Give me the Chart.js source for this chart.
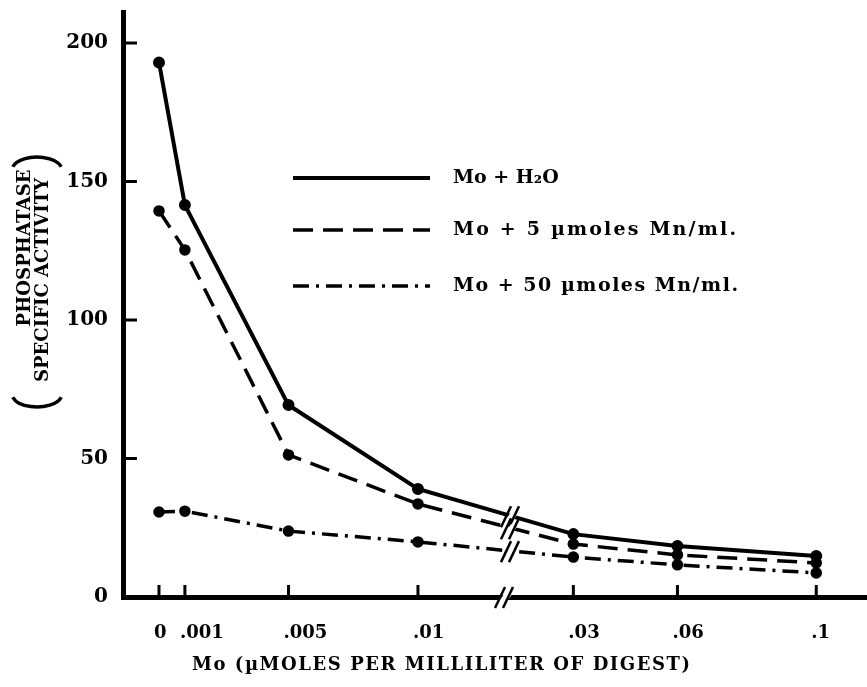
<!DOCTYPE html>
<html>
<head>
<meta charset="utf-8">
<script src="https://cdn.jsdelivr.net/npm/chart.js@4.4.0/dist/chart.umd.min.js"></script>
<style>
    html, body { margin: 0; padding: 0; background: #fff; }
    canvas { display: block; }
</style>
</head>
<body>
<canvas id="chart" width="867" height="687"></canvas>
<script>
// Mo concentration (umoles per ml of digest) and the axis labels
const concentrations = [0, 0.001, 0.005, 0.01, 0.03, 0.06, 0.1];
const tickLabels = ["0", ".001", ".005", ".01", ".03", ".06", ".1"];
const yTicks = [0, 50, 100, 150, 200];

// Phosphatase specific activity
const moWater = [193, 141.5, 69.3, 39, 22.7, 18.4, 14.8];
const mo5Mn = [139.4, 125.3, 51.3, 33.6, 19.1, 15.2, 12.3];
const mo50Mn = [30.7, 31.0, 23.8, 19.9, 14.4, 11.6, 8.7];

const seriesLabels = ["Mo + H\u2082O", "Mo + 5 \u00b5moles Mn/ml.", "Mo + 50 \u00b5moles Mn/ml."];

const FONT = '"DejaVu Serif", serif';

// The x axis is broken between .01 and .03, so it is two linear pieces
function axisPos(c) {
    return c <= 0.01 ? c * 1000 : 16 + (c - 0.03) * 134;
}
const BREAK_AT = 13.4;

function points(values) {
    return values.map((v, i) => ({ x: axisPos(concentrations[i]), y: v }));
}

function line(ctx, x1, y1, x2, y2) {
    ctx.beginPath();
    ctx.moveTo(x1, y1);
    ctx.lineTo(x2, y2);
    ctx.stroke();
}

// stretch text to a width with letter spacing, like the typewriter
function spacedText(ctx, text, x, y, width, align) {
    ctx.letterSpacing = "0px";
    const w = ctx.measureText(text).width;
    const sp = width ? Math.max(0, (width - w) / (text.length - 1)) : 0;
    ctx.letterSpacing = sp + "px";
    const total = w + sp * (text.length - 1);
    let x0 = x;
    if (align === "center") x0 = x - total / 2;
    ctx.textAlign = "left";
    ctx.fillText(text, x0, y);
    ctx.letterSpacing = "0px";
}

// double slash across a line or the axis
function breakMark(ctx, cx, cy) {
    ctx.save();
    ctx.fillStyle = "#fff";
    ctx.beginPath();
    ctx.moveTo(cx - 7, cy + 4);
    ctx.lineTo(cx - 1, cy - 4);
    ctx.lineTo(cx + 7, cy - 4);
    ctx.lineTo(cx + 1, cy + 4);
    ctx.closePath();
    ctx.fill();
    ctx.strokeStyle = "#000";
    ctx.lineWidth = 2.5;
    line(ctx, cx - 11, cy + 11, cx - 1, cy - 10);
    line(ctx, cx - 3, cy + 11, cx + 7, cy - 10);
    ctx.restore();
}

const paperMarks = {
    id: "paperMarks",
    afterDraw(chart) {
        const ctx = chart.ctx;
        const a = chart.chartArea;
        const x = chart.scales.x;
        const y = chart.scales.y;

        ctx.save();
        ctx.strokeStyle = "#000";
        ctx.lineWidth = 3;
        // inward tick marks
        yTicks.slice(1).forEach(v => {
            const py = y.getPixelForValue(v);
            line(ctx, a.left, py, a.left + 14, py);
        });
        concentrations.forEach(c => {
            const px = x.getPixelForValue(axisPos(c));
            line(ctx, px, a.bottom, px, a.bottom - 12);
        });

        // axis break and line breaks
        const xb = x.getPixelForValue(BREAK_AT);
        breakMark(ctx, xb, a.bottom);
        chart.data.datasets.forEach((ds, i) => {
            const meta = chart.getDatasetMeta(i);
            const p = meta.data[3], q = meta.data[4];
            const xl = xb + 6;
            const t = (xl - p.x) / (q.x - p.x);
            breakMark(ctx, xl, p.y + t * (q.y - p.y));
        });

        // legend
        ctx.fillStyle = "#000";
        ctx.textBaseline = "middle";
        ctx.font = "bold 19px " + FONT;
        const legendY = [178, 230, 286];
        const widths = [97, 283, 285];
        chart.data.datasets.forEach((ds, i) => {
            ctx.save();
            ctx.lineWidth = ds.borderWidth;
            ctx.setLineDash(ds.borderDash);
            line(ctx, 293, legendY[i], 430, legendY[i]);
            ctx.restore();
            spacedText(ctx, ds.label, 453, legendY[i], widths[i], "left");
        });

        // x axis title
        ctx.font = "bold 18px " + FONT;
        spacedText(ctx, "Mo (\u00b5MOLES PER MILLILITER OF DIGEST)", 441, 665, 498, "center");

        // y axis title, rotated
        const vText = (text, cx, cy, width) => {
            ctx.save();
            ctx.translate(cx, cy);
            ctx.rotate(-Math.PI / 2);
            ctx.font = "bold 18px " + FONT;
            spacedText(ctx, text, 0, 0, width, "center");
            ctx.restore();
        };
        vText("PHOSPHATASE", 25, 248, 157);
        vText("SPECIFIC ACTIVITY", 43, 280, 204);

        // the tall parentheses round the two lines
        ctx.lineWidth = 3.5;
        ctx.beginPath();
        ctx.ellipse(37, 170, 25, 13, 0, Math.PI * 1.08, Math.PI * 1.92);
        ctx.stroke();
        ctx.beginPath();
        ctx.ellipse(37, 394, 25, 13, 0, Math.PI * 0.08, Math.PI * 0.92);
        ctx.stroke();
        ctx.restore();
    }
};

new Chart(document.getElementById("chart"), {
    type: "line",
    data: {
        datasets: [
            {
                label: seriesLabels[0],
                data: points(moWater),
                borderColor: "#000",
                backgroundColor: "#000",
                borderWidth: 4,
                borderDash: [],
                pointRadius: 4
            },
            {
                label: seriesLabels[1],
                data: points(mo5Mn),
                borderColor: "#000",
                backgroundColor: "#000",
                borderWidth: 3.5,
                borderDash: [20, 10],
                pointRadius: 4
            },
            {
                label: seriesLabels[2],
                data: points(mo50Mn),
                borderColor: "#000",
                backgroundColor: "#000",
                borderWidth: 3.5,
                borderDash: [16, 7, 3, 7],
                pointRadius: 4
            }
        ]
    },
    options: {
        responsive: false,
        animation: false,
        layout: { autoPadding: false, padding: { top: 12, right: 0, left: 0, bottom: 0 } },
        plugins: {
            legend: { display: false },
            tooltip: { enabled: false }
        },
        scales: {
            x: {
                type: "linear",
                min: -1.39,
                max: 27.34,
                afterBuildTicks: s => { s.ticks = concentrations.map(c => ({ value: axisPos(c) })); },
                afterFit: s => {
                    s.height = 90;
                    s.paddingLeft = 0;
                    s.paddingRight = 0;
                },
                grid: { display: false },
                border: { display: true, color: "#000", width: 5 },
                ticks: {
                    callback: (v, i) => tickLabels[i],
                    color: "#000",
                    font: { family: FONT, size: 18, weight: "bold" },
                    padding: 18,
                    align: "start",
                    labelOffset: -5,
                    maxRotation: 0,
                    autoSkip: false
                }
            },
            y: {
                min: 0,
                max: 211.2,
                afterBuildTicks: s => { s.ticks = yTicks.map(v => ({ value: v })); },
                afterFit: s => {
                    s.width = 123;
                    s.paddingTop = 0;
                    s.paddingBottom = 0;
                },
                grid: { display: false },
                border: { display: true, color: "#000", width: 5 },
                ticks: {
                    callback: v => String(v),
                    color: "#000",
                    font: { family: FONT, size: 20, weight: "bold" },
                    padding: 7
                }
            }
        }
    },
    plugins: [paperMarks]
});
</script>
</body>
</html>
